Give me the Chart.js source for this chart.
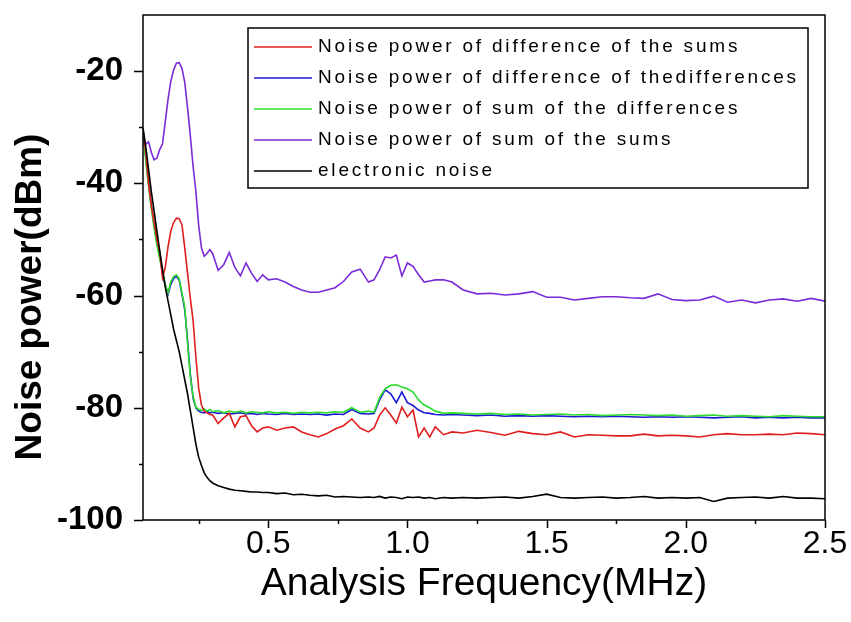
<!DOCTYPE html>
<html>
<head>
<meta charset="utf-8">
<script src="https://cdn.jsdelivr.net/npm/chart.js@4.4.1/dist/chart.umd.min.js"></script>
<style>
  body { margin: 0; background: #fff; }
  canvas { display: block; }
</style>
</head>
<body>
<canvas id="graphe" width="851" height="622"></canvas>
<script>
"use strict";

// frequences d'analyse (MHz)
const frequences = [
  0.05, 0.06, 0.07, 0.08, 0.09, 0.10, 0.11, 0.12, 0.13, 0.14,
  0.15, 0.16, 0.17, 0.18, 0.19, 0.20, 0.21, 0.22, 0.23, 0.24,
  0.25, 0.26, 0.27, 0.28, 0.29, 0.30, 0.32, 0.34, 0.36, 0.38,
  0.40, 0.42, 0.44, 0.46, 0.48, 0.50, 0.53, 0.56, 0.59, 0.62,
  0.65, 0.68, 0.71, 0.74, 0.77, 0.80, 0.83, 0.86, 0.88, 0.90,
  0.92, 0.94, 0.96, 0.98, 1.00, 1.02, 1.04, 1.06, 1.08, 1.10,
  1.13, 1.16, 1.20, 1.25, 1.30, 1.35, 1.40, 1.45, 1.50, 1.55,
  1.60, 1.65, 1.70, 1.75, 1.80, 1.85, 1.90, 1.95, 2.00, 2.05,
  2.10, 2.15, 2.20, 2.25, 2.30, 2.35, 2.40, 2.45, 2.50
];

// puissance de bruit (dBm)
const diffDesSommes = [
  -30.5, -34.5, -40.0, -44.0, -47.0, -50.0, -52.2, -56.8, -55.0, -51.3,
  -48.5, -47.0, -46.2, -46.3, -47.4, -51.5, -56.0, -60.5, -64.5, -71.0,
  -76.5, -79.5, -80.6, -80.9, -81.2, -81.3, -82.8, -81.8, -81.0, -83.4,
  -81.6, -81.4, -83.2, -84.3, -83.6, -83.4, -84.0, -83.6, -83.4, -84.3,
  -84.8, -85.2, -84.6, -83.8, -83.2, -82.0, -83.6, -84.3, -83.6, -81.3,
  -80.0, -81.3, -82.7, -79.9, -81.6, -80.4, -85.2, -83.6, -85.2, -83.4,
  -84.8, -84.3, -84.5, -84.0, -84.4, -84.9, -84.2, -84.6, -84.8, -84.3,
  -85.2, -84.8, -84.9, -85.0, -85.0, -84.7, -85.0, -84.9, -85.0, -85.2,
  -84.8, -84.6, -84.8, -84.8, -84.7, -84.8, -84.5, -84.6, -84.8
];
const diffDesDiff = [
  -30.5, -35.5, -40.0, -44.0, -47.5, -50.5, -53.0, -55.8, -58.2, -59.8,
  -58.0, -56.9, -56.6, -57.2, -59.8, -62.5, -68.0, -74.0, -78.3, -80.0,
  -80.6, -80.8, -80.9, -80.7, -80.9, -80.8, -81.0, -80.9, -81.1, -81.0,
  -80.9, -81.1, -81.0, -81.2, -81.0, -81.1, -81.2, -81.0, -81.2, -81.1,
  -81.2, -81.1, -81.3, -81.1, -81.2, -80.3, -81.0, -81.1, -81.0, -78.6,
  -76.8, -77.5, -79.1, -77.2, -79.1, -79.6, -80.4, -80.9, -81.0, -81.2,
  -81.3, -81.2, -81.3, -81.4, -81.3, -81.5, -81.4, -81.5, -81.4, -81.5,
  -81.6, -81.5, -81.6, -81.5, -81.6, -81.7, -81.6, -81.7, -81.6, -81.7,
  -81.8, -81.7, -81.6, -81.8, -81.7, -81.8, -81.7, -81.8, -81.8
];
const sommeDesDiff = [
  -30.5, -36.0, -40.5, -44.5, -48.0, -51.0, -53.5, -55.6, -58.0, -59.5,
  -57.5, -56.6, -56.3, -57.0, -59.5, -62.0, -68.5, -74.5, -78.0, -79.9,
  -80.3, -80.5, -80.2, -80.6, -80.3, -80.7, -80.5, -80.9, -80.6, -80.8,
  -80.6, -80.9, -80.7, -80.8, -80.9, -80.7, -80.9, -80.8, -81.0, -80.8,
  -80.9, -80.8, -80.9, -80.7, -80.8, -80.0, -80.8, -80.6, -80.8, -78.2,
  -76.6, -76.0, -75.9, -76.3, -76.6, -77.2, -78.6, -79.5, -80.0, -80.6,
  -81.0, -80.9, -81.0, -81.1, -81.0, -81.2, -81.1, -81.3, -81.2, -81.1,
  -81.3, -81.2, -81.4, -81.3, -81.2, -81.3, -81.4, -81.3, -81.5, -81.4,
  -81.3, -81.5, -81.4, -81.5, -81.6, -81.4, -81.5, -81.6, -81.6
];
const sommeDesSommes = [
  -31.5, -33.0, -32.6, -34.5, -35.8, -35.5, -34.0, -33.0, -29.0, -25.0,
  -21.8, -19.8, -18.6, -18.5, -19.5, -22.0, -26.5, -31.5, -37.0, -41.5,
  -47.5, -51.5, -53.0, -52.5, -51.8, -52.5, -55.5, -54.5, -52.3, -55.0,
  -56.5, -54.2, -56.0, -57.5, -56.3, -57.2, -57.0, -57.6, -58.4, -59.0,
  -59.4, -59.4, -59.0, -58.6, -57.5, -55.8, -55.3, -57.6, -57.2, -55.4,
  -53.1, -53.3, -52.8, -56.5, -54.2, -54.8, -56.3, -57.6, -57.4, -57.2,
  -57.2, -57.6, -59.0, -59.7, -59.6, -59.9, -59.7, -59.3, -60.3, -60.3,
  -60.8, -60.5, -60.2, -60.2, -60.4, -60.5, -59.7, -60.7, -60.9, -60.8,
  -60.1, -61.2, -60.8, -61.3, -60.8, -60.6, -61.0, -60.5, -61.0
];
const bruitElectronique = [
  -30.1, -33.5, -37.5, -41.5, -45.0, -48.5, -52.0, -55.3, -58.5, -61.0,
  -63.5, -66.0, -68.0, -70.0, -72.5, -75.0, -77.5, -80.5, -83.5, -86.5,
  -88.8, -90.3, -91.6, -92.4, -93.0, -93.4, -93.9, -94.2, -94.5, -94.7,
  -94.8, -94.9, -95.0, -95.0, -95.1, -95.1, -95.3, -95.2, -95.5, -95.4,
  -95.6, -95.7, -95.6, -95.9, -95.8, -95.9, -96.0, -95.9, -96.0, -95.8,
  -96.1, -95.9, -96.0, -96.2, -95.9, -96.0, -95.9, -96.1, -96.0, -96.2,
  -96.0, -96.1, -96.0, -96.1, -96.0, -95.9, -96.1, -95.8, -95.4, -96.0,
  -96.1, -96.0, -95.9, -96.1, -96.0, -95.8, -96.1, -96.0, -96.1, -96.0,
  -96.7, -96.1, -96.0, -95.9, -96.1, -95.8, -96.1, -96.1, -96.2
];

const ticksX = [0.5, 1.0, 1.5, 2.0, 2.5];
const ticksXMineurs = [0.25, 0.75, 1.25, 1.75, 2.25];
const ticksY = [-100, -80, -60, -40, -20];
const ticksYMineurs = [-90, -70, -50, -30];
const titreY = 'Noise power(dBm)';

const police = "'Liberation Sans', Arial, sans-serif";
Chart.defaults.font.family = police;
Chart.defaults.color = '#000';

function points(serie) {
  return frequences.map((f, i) => ({ x: f, y: serie[i] }));
}

function courbe(label, couleur, serie, ordre) {
  return {
    label: label,
    data: points(serie),
    borderColor: couleur,
    backgroundColor: couleur,
    borderWidth: 1.6,
    pointRadius: 0,
    tension: 0,
    order: ordre
  };
}

// cadre, graduations, titre vertical et legende dessines a la main
const cadreEtLegende = {
  id: 'cadreEtLegende',
  afterDraw(chart) {
    const ctx = chart.ctx;
    const a = chart.chartArea;
    const sx = chart.scales.x;
    const sy = chart.scales.y;
    ctx.save();
    ctx.strokeStyle = '#000';
    ctx.lineWidth = 1.5;
    ctx.strokeRect(a.left, a.top, a.right - a.left, a.bottom - a.top);

    ctx.beginPath();
    ticksX.forEach(v => {
      const px = Math.round(sx.getPixelForValue(v)) + 0.5;
      ctx.moveTo(px, a.bottom);
      ctx.lineTo(px, a.bottom + 8);
    });
    ticksXMineurs.forEach(v => {
      const px = Math.round(sx.getPixelForValue(v)) + 0.5;
      ctx.moveTo(px, a.bottom);
      ctx.lineTo(px, a.bottom + 4);
    });
    ticksY.forEach(v => {
      const py = Math.round(sy.getPixelForValue(v)) + 0.5;
      ctx.moveTo(a.left, py);
      ctx.lineTo(a.left - 9, py);
    });
    ticksYMineurs.forEach(v => {
      const py = Math.round(sy.getPixelForValue(v)) + 0.5;
      ctx.moveTo(a.left, py);
      ctx.lineTo(a.left - 4, py);
    });
    ctx.stroke();

    // titre de l'axe y
    ctx.save();
    ctx.translate(31, 297);
    ctx.rotate(-Math.PI / 2);
    ctx.font = "bold 37px " + police;
    ctx.textAlign = 'center';
    ctx.textBaseline = 'middle';
    ctx.fillStyle = '#000';
    ctx.fillText(titreY, 0, 0);
    ctx.restore();

    // legende
    const boite = { x: 248, y: 28, w: 560, h: 160 };
    ctx.fillStyle = '#fff';
    ctx.fillRect(boite.x, boite.y, boite.w, boite.h);
    ctx.lineWidth = 1.5;
    ctx.strokeRect(boite.x, boite.y, boite.w, boite.h);
    ctx.font = "19px " + police;
    ctx.textBaseline = 'middle';
    ctx.letterSpacing = '2.8px';
    chart.data.datasets.forEach((ds, i) => {
      const y = boite.y + 19 + i * 31;
      ctx.strokeStyle = ds.borderColor;
      ctx.lineWidth = 1.6;
      ctx.beginPath();
      ctx.moveTo(boite.x + 6, y);
      ctx.lineTo(boite.x + 64, y);
      ctx.stroke();
      ctx.fillStyle = '#000';
      ctx.fillText(ds.label, boite.x + 70, y);
    });
    ctx.restore();
  }
};

const ctx = document.getElementById('graphe');
let myChart = new Chart(ctx, {
  type: 'line',
  data: {
    datasets: [
      courbe('Noise power of difference of the sums', '#e01e1e', diffDesSommes, 1),
      courbe('Noise power of difference of thedifferences', '#1a1ad0', diffDesDiff, 3),
      courbe('Noise power of sum of the differences', '#2edc2e', sommeDesDiff, 2),
      courbe('Noise power of sum of the sums', '#7a2ad8', sommeDesSommes, 4),
      courbe('electronic noise', '#000000', bruitElectronique, 0)
    ]
  },
  options: {
    responsive: false,
    animation: false,
    layout: { padding: { top: 15, right: 26, left: 0, bottom: 0 } },
    plugins: {
      legend: { display: false },
      tooltip: { enabled: false }
    },
    scales: {
      x: {
        type: 'linear',
        min: 0.05,
        max: 2.5,
        afterBuildTicks: s => { s.ticks = ticksX.map(v => ({ value: v })); },
        afterFit: s => { s.height = 102; s.paddingLeft = 0; s.paddingRight = 0; },
        grid: { display: false, drawTicks: false },
        border: { display: false },
        ticks: {
          callback: v => Number(v).toFixed(1),
          font: { size: 32 },
          padding: 5,
          maxRotation: 0,
          autoSkip: false
        },
        title: {
          display: true,
          text: 'Analysis Frequency(MHz)',
          font: { size: 39 },
          padding: { top: 0, bottom: 14 }
        }
      },
      y: {
        min: -100,
        max: -10,
        afterBuildTicks: s => { s.ticks = ticksY.map(v => ({ value: v })); },
        afterFit: s => { s.width = 143; s.paddingTop = 0; s.paddingBottom = 0; },
        grid: { display: false, drawTicks: false },
        border: { display: false },
        ticks: {
          callback: v => String(v),
          font: { size: 33, weight: 'bold' },
          padding: 20
        }
      }
    }
  },
  plugins: [cadreEtLegende]
});
</script>
</body>
</html>
